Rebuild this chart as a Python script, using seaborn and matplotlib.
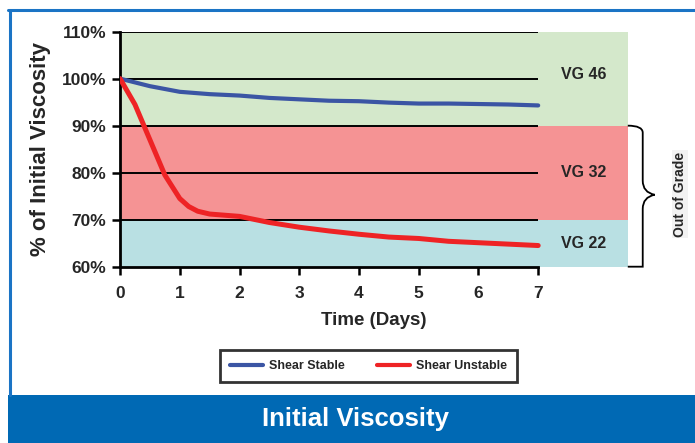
import matplotlib
matplotlib.use("Agg")
import matplotlib.pyplot as plt
import seaborn as sns
import pandas as pd
from matplotlib.patches import Rectangle, PathPatch
from matplotlib.path import Path
from matplotlib.lines import Line2D

sns.set_style("white")
plt.rcParams['font.family'] = ['Liberation Sans', 'DejaVu Sans']

# data
stable_days = [0, 0.5, 1, 1.5, 2, 2.5, 3, 3.5, 4, 4.5, 5, 5.5, 6, 6.5, 7]
stable_pct = [100, 98.4, 97.2, 96.7, 96.4, 95.9, 95.6, 95.3, 95.2, 94.9, 94.7, 94.7, 94.6, 94.5, 94.3]
unstable_days = [0, 0.25, 0.5, 0.75, 1, 1.15, 1.3, 1.5, 2, 2.5, 3, 3.5, 4, 4.5, 5, 5.5, 6, 6.5, 7]
unstable_pct = [100, 94.5, 87, 79.5, 74.5, 72.8, 71.8, 71.2, 70.7, 69.4, 68.4, 67.6, 66.9, 66.3, 66.0, 65.4, 65.1, 64.8, 64.5]
grades = ["VG 46", "VG 32", "VG 22"]
grade_lo = [90, 70, 60]
grade_hi = [110, 90, 70]
grade_colors = ["#d4e8cb", "#f59394", "#b9e0e3"]

df = pd.concat([
    pd.DataFrame({"day": stable_days, "pct": stable_pct, "series": "Shear Stable"}),
    pd.DataFrame({"day": unstable_days, "pct": unstable_pct, "series": "Shear Unstable"}),
])

fig = plt.figure(figsize=(6.95, 4.43), dpi=100)
ax = fig.add_axes([0.1727, 0.398, 0.7306, 0.5306])

# grade bands
for name, lo, hi, c in zip(grades, grade_lo, grade_hi, grade_colors):
    ax.axhspan(lo, hi, color=c, zorder=0, lw=0)
    ax.text(7.76, (lo + hi) / 2 if name != "VG 46" else 100.8, name,
            ha="center", va="center", fontsize=11.5, fontweight="bold")

ax.hlines([70, 80, 90, 100, 110], 0, 7, color="black", lw=1.4, zorder=1)

sns.lineplot(data=df, x="day", y="pct", hue="series",
             palette={"Shear Stable": "#3b55a4", "Shear Unstable": "#ee2325"},
             ax=ax, legend=False, zorder=3)
ax.lines[-2].set_linewidth(3)
ax.lines[-1].set_linewidth(3.6)

ax.set_xlim(0, 8.5)
ax.set_ylim(60, 110)
ax.set_xticks(range(8))
ax.set_yticks([60, 70, 80, 90, 100, 110])
ax.set_yticklabels([f"{v}%" for v in [60, 70, 80, 90, 100, 110]])
for lab in ax.get_xticklabels() + ax.get_yticklabels():
    lab.set_fontweight("bold")
    lab.set_fontsize(12.5)
ax.tick_params(axis="both", direction="out", length=6, width=1.8, color="black",
               bottom=True, left=True, pad=4)
ax.tick_params(axis="x", pad=8)

for s in ["top", "right"]:
    ax.spines[s].set_visible(False)
ax.spines["left"].set_linewidth(2)
ax.spines["bottom"].set_linewidth(2)
ax.spines["left"].set_color("black")
ax.spines["bottom"].set_color("black")
ax.spines["bottom"].set_bounds(0, 7)

ax.set_xlabel("Time (Days)", fontsize=13.5, fontweight="bold", labelpad=8)
ax.set_ylabel("% of Initial Viscosity", fontsize=16, fontweight="bold", labelpad=8)

# brace for "out of grade"
bx, by0, by1, ty = 8.5, 90, 60, 75.3
w = 0.25
verts = [(bx, by0), (bx + w, by0), (bx + w, by0 - 1.5), (bx + w, by0 - 3),
         (bx + w, ty + 3), (bx + w, ty + 0.5), (bx + w + 0.2, ty),
         (bx + w, ty - 0.5), (bx + w, ty - 3), (bx + w, by1 + 3),
         (bx + w, by1 + 1.5), (bx + w, by1), (bx, by1)]
codes = [Path.MOVETO, Path.CURVE3, Path.CURVE3, Path.LINETO,
         Path.LINETO, Path.CURVE3, Path.CURVE3,
         Path.CURVE3, Path.CURVE3, Path.LINETO,
         Path.CURVE3, Path.CURVE3, Path.LINETO]
brace = PathPatch(Path(verts, codes), fc="none", ec="black", lw=1.3, clip_on=False, zorder=5)
ax.add_patch(brace)
fig.text(680 / 695, 1 - 194 / 443, "Out of Grade", rotation=90, ha="center", va="center",
         fontsize=10, fontweight="bold",
         bbox=dict(fc="#f2f2f2", ec="none", pad=1))

# legend
handles = [Line2D([], [], color="#3b55a4", lw=3), Line2D([], [], color="#ee2325", lw=3)]
leg = fig.legend(handles, ["Shear Stable", "Shear Unstable"], ncol=2,
                 loc="center", bbox_to_anchor=(368.5 / 695, 1 - 366 / 443),
                 frameon=True, fancybox=False, edgecolor="black",
                 prop={"weight": "bold", "size": 9}, handlelength=2.6,
                 columnspacing=2.6, borderpad=0.8, handletextpad=0.5)
leg.get_frame().set_linewidth(2)

# frame and banner
blue = "#0069b4"
fig.add_artist(Line2D([8 / 695, 1], [1 - 9.5 / 443] * 2, color="#1b74c5", lw=2.2))
fig.add_artist(Line2D([10 / 695] * 2, [1 - 9.5 / 443, 48 / 443], color="#1b74c5", lw=2.2))
fig.add_artist(Rectangle((8 / 695, 0), 1, 48 / 443, transform=fig.transFigure, color=blue, lw=0))
fig.text(356 / 695, 24 / 443, "Initial Viscosity", color="white", ha="center", va="center",
         fontsize=18.5, fontweight="bold")

fig.savefig("out.png", dpi=100)
